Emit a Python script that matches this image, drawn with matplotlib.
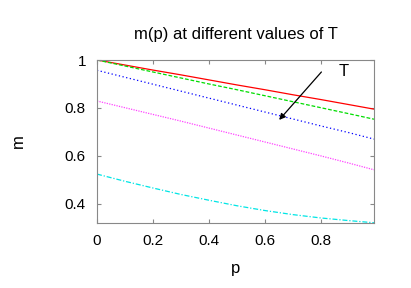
import matplotlib
matplotlib.use("Agg")
import matplotlib.pyplot as plt

p = [0.0, 0.1, 0.2, 0.3, 0.4, 0.5, 0.6, 0.7, 0.8, 0.9, 0.99]
m_red = [1.000, 0.979, 0.958, 0.938, 0.917, 0.896, 0.876, 0.855, 0.835, 0.814, 0.795]
m_green = [1.000, 0.975, 0.950, 0.925, 0.900, 0.876, 0.851, 0.826, 0.801, 0.776, 0.753]
m_blue = [0.957, 0.928, 0.899, 0.870, 0.841, 0.812, 0.783, 0.754, 0.725, 0.697, 0.670]
m_magenta = [0.829, 0.801, 0.773, 0.745, 0.716, 0.687, 0.658, 0.629, 0.600, 0.570, 0.542]
m_cyan = [0.524, 0.494, 0.466, 0.439, 0.415, 0.392, 0.372, 0.355, 0.341, 0.330, 0.321]

xticks = [0, 0.2, 0.4, 0.6, 0.8]
xticklabels = ["0", "0.2", "0.4", "0.6", "0.8"]
yticks = [0.4, 0.6, 0.8, 1.0]
yticklabels = ["0.4", "0.6", "0.8", "1"]

plt.rcParams['font.family'] = ['Liberation Sans', 'DejaVu Sans']

fig = plt.figure(figsize=(4.11, 2.88), dpi=100)
ax = fig.add_axes([97/411, 1-223/288, (374-97)/411, (223-60)/288])

ax.plot(p, m_red, color='#ff0000', lw=0.9, ls='-')
ax.plot(p, m_green, color='#00dd00', lw=0.9, ls=(0, (3, 1.5)))
ax.plot(p, m_blue, color='#0000ff', lw=0.9, ls=(0, (1, 2)))
ax.plot(p, m_magenta, color='#ff44ff', lw=0.9, ls=(0, (1, 1)))
ax.plot(p, m_cyan, color='#00e5e5', lw=0.9, ls=(0, (4, 1.5, 1, 1.5)))

ax.annotate("", xy=(0.651, 0.75), xytext=(0.802, 0.95),
            arrowprops=dict(arrowstyle='-|>', color='black', lw=0.9,
                            mutation_scale=9, shrinkA=0, shrinkB=0))
ax.text(0.88, 0.95, "T", fontsize=12, ha='center', va='center')

ax.set_xlim(0, 0.99)
ax.set_ylim(0.32, 1.0)
ax.set_xticks(xticks)
ax.set_xticklabels(xticklabels)
ax.set_yticks(yticks)
ax.set_yticklabels(yticklabels)
ax.tick_params(direction='in', top=True, right=True, length=3, color='#888888',
               labelsize=11, pad=8)
for s in ax.spines.values():
    s.set_color('#888888')
    s.set_linewidth(0.8)

ax.set_xlabel("p", fontsize=12, labelpad=9)
ax.set_ylabel("m", fontsize=12, labelpad=28, rotation=90)
ax.set_title("m(p) at different values of T", fontsize=12, pad=15)

fig.savefig("out.png", dpi=100)
